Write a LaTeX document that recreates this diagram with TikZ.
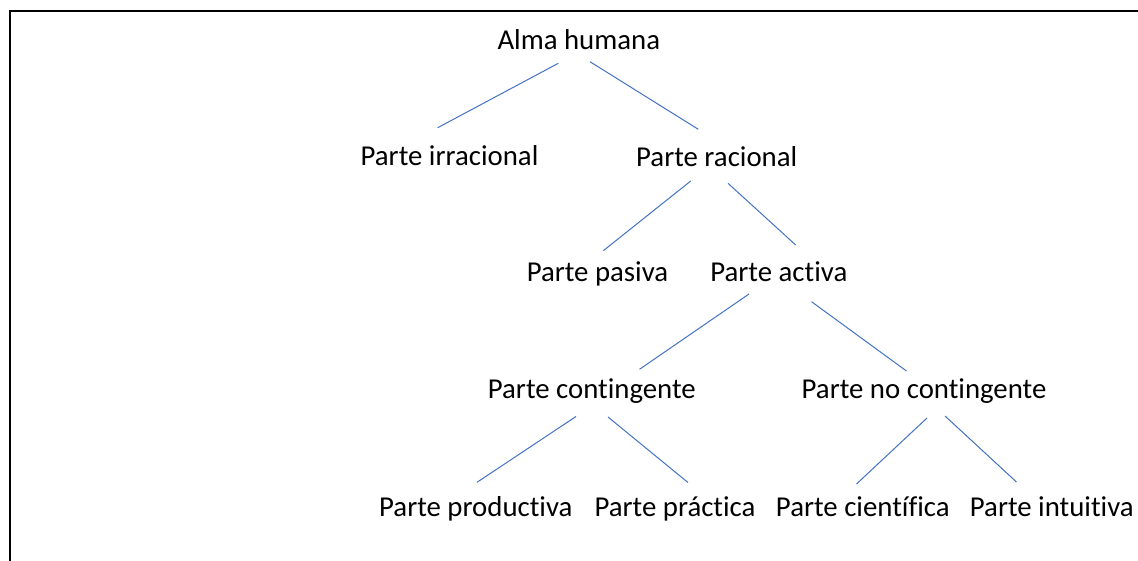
\documentclass[tikz,border=0pt]{standalone}
\usepackage{fontspec}
\setmainfont{Carlito}[Ligatures={NoCommon,NoRare}]
\usetikzlibrary{calc}
\definecolor{linkblue}{HTML}{4472C4}
\begin{document}
\begin{tikzpicture}[x=1pt,y=-1pt,
  lbl/.style={inner sep=0pt,anchor=base,font=\fontsize{28.8}{34}\selectfont},
  conn/.style={draw=linkblue,line width=1pt}]
\useasboundingbox (0,0) rectangle (1138,560);
\draw[line width=1.8pt] (1160,11) -- (10,11) -- (10,580);
\node[lbl] (alma) at (578.8,49.3) {Alma humana};
\node[lbl] (irr) at (449.5,165.7) {Parte irracional};
\node[lbl] (rac) at (716.7,166) {Parte racional};
\node[lbl] (pas) at (597.5,281) {Parte pasiva};
\node[lbl] (act) at (778.8,281) {Parte activa};
\node[lbl] (cont) at (591.8,398.3) {Parte contingente};
\node[lbl] (nocont) at (924,398.3) {Parte no contingente};
\node[lbl] (prod) at (475.8,516) {Parte productiva};
\node[lbl] (prac) at (675,516) {Parte práctica};
\node[lbl] (cien) at (862.8,516) {Parte científica};
\node[lbl] (intu) at (1051.8,516) {Parte intuitiva};
\draw[conn] ($(alma.base)+(-20.5,14)$) -- ($(irr.base)+(-11.8,-38)$);
\draw[conn] ($(alma.base)+(11.2,12.4)$) -- ($(rac.base)+(-18.4,-36.7)$);
\draw[conn] ($(rac.base)+(-26,15)$) -- ($(pas.base)+(5.8,-30.3)$);
\draw[conn] ($(rac.base)+(11.3,17.3)$) -- ($(act.base)+(16.9,-36)$);
\draw[conn] ($(act.base)+(-29.8,13)$) -- ($(cont.base)+(47.7,-29)$);
\draw[conn] ($(act.base)+(32.7,20.7)$) -- ($(nocont.base)+(-17.5,-27.3)$);
\draw[conn] ($(cont.base)+(-15.8,18.2)$) -- ($(prod.base)+(1.2,-33.7)$);
\draw[conn] ($(cont.base)+(16.2,18.7)$) -- ($(prac.base)+(13,-33.5)$);
\draw[conn] ($(nocont.base)+(3,19.7)$) -- ($(cien.base)+(-6.3,-32)$);
\draw[conn] ($(nocont.base)+(21,17.7)$) -- ($(intu.base)+(-35.3,-34)$);
\end{tikzpicture}
\end{document}
